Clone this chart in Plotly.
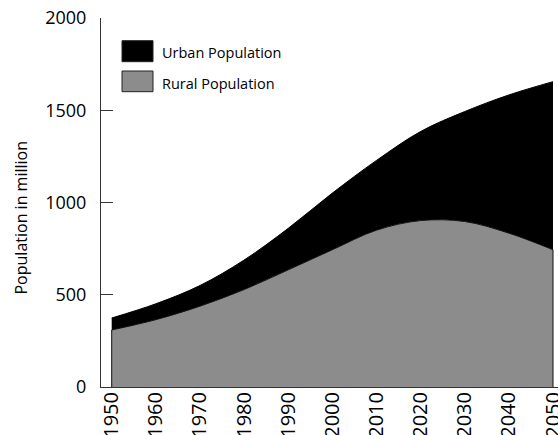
import plotly.graph_objects as go

# ---- data ----
years = [1950, 1960, 1970, 1980, 1990, 2000, 2010, 2020, 2030, 2040, 2050]
rural_population = [309, 365, 438, 528, 635, 744, 850, 902, 897, 834, 744]
urban_population = [65, 86, 112, 160, 225, 307, 378, 483, 596, 749, 911]
total_population = [r + u for r, u in zip(rural_population, urban_population)]
x_tick_labels = [str(y) for y in years]
y_tick_values = [0, 500, 1000, 1500, 2000]

RURAL_COLOR = "#8c8c8c"
URBAN_COLOR = "#000000"
AXIS_COLOR = "#333333"
FONT = "Open Sans"

W, H = 558, 435
ML, MR, MT, MB = 101, 0, 18, 48
PW, PH = W - ML - MR, H - MT - MB


def px2x(px):
    return (px - ML) / PW


def px2y(py):
    return (H - MB - py) / PH


fig = go.Figure()

fig.add_trace(go.Scatter(
    x=years, y=rural_population, mode="lines", line=dict(color="#111111", width=1, shape="spline"),
    fill="tozeroy", fillcolor=RURAL_COLOR, name="Rural Population", showlegend=False,
    hoverinfo="skip"))
fig.add_trace(go.Scatter(
    x=years, y=total_population, mode="lines", line=dict(color=URBAN_COLOR, width=1, shape="spline"),
    fill="tonexty", fillcolor=URBAN_COLOR, name="Urban Population", showlegend=False,
    hoverinfo="skip"))
# vertical edges of the rural area
fig.add_trace(go.Scatter(
    x=[years[0], years[0], None, years[-1], years[-1]],
    y=[0, rural_population[0], None, 0, rural_population[-1]],
    mode="lines", line=dict(color="#111111", width=1), showlegend=False, hoverinfo="skip"))

# manual legend
shapes = []
annotations = []
legend_items = [("Urban Population", URBAN_COLOR, 40.7, 61.7, 53),
                ("Rural Population", RURAL_COLOR, 71, 91.7, 84)]
for label, color, y0, y1, yc in legend_items:
    shapes.append(dict(type="rect", xref="paper", yref="paper",
                       x0=px2x(122), x1=px2x(153), y0=px2y(y1), y1=px2y(y0),
                       fillcolor=color, line=dict(color="#222222", width=1), layer="above"))
    annotations.append(dict(text=label, xref="paper", yref="paper", x=px2x(160), y=px2y(yc),
                            xanchor="left", yanchor="middle", showarrow=False,
                            font=dict(family=FONT, size=14.5, color="#000")))

annotations.append(dict(text="Population in million", xref="paper", yref="paper",
                        x=px2x(20.5), y=px2y(218), textangle=-90, xanchor="center",
                        yanchor="middle", showarrow=False,
                        font=dict(family=FONT, size=16, color="#000")))

x0_px = 111.7
px_per_year = 4.413
x_range = [years[0] - (x0_px - ML) / px_per_year, years[0] + (W - MR - x0_px) / px_per_year]

fig.update_layout(
    width=W, height=H,
    margin=dict(l=ML, r=MR, t=MT, b=MB, pad=0, autoexpand=False),
    paper_bgcolor="white", plot_bgcolor="white",
    showlegend=False,
    hovermode=False,
    font=dict(family=FONT, color="#000"),
    shapes=shapes,
    annotations=annotations,
    xaxis=dict(range=x_range, tickvals=years, ticktext=x_tick_labels, tickangle=-90,
               showline=True, linecolor=AXIS_COLOR, linewidth=1, ticks="",
               showgrid=False, zeroline=False, tickfont=dict(family=FONT, size=20, color="#000"),
               ticklabelstandoff=-4, ticklabeloverflow="allow", automargin=False),
    yaxis=dict(range=[0, 2000], tickvals=y_tick_values, ticks="inside", ticklen=12,
               tickcolor=AXIS_COLOR, tickwidth=1,
               showline=True, linecolor=AXIS_COLOR, linewidth=1,
               showgrid=False, zeroline=False, tickfont=dict(family=FONT, size=18, color="#000"),
               ticklabelstandoff=10, ticklabeloverflow="allow", automargin=False),
)

fig.write_html("out.html", config={"displayModeBar": False},
               post_script="document.body.style.margin='0';document.body.style.overflow='hidden';")
